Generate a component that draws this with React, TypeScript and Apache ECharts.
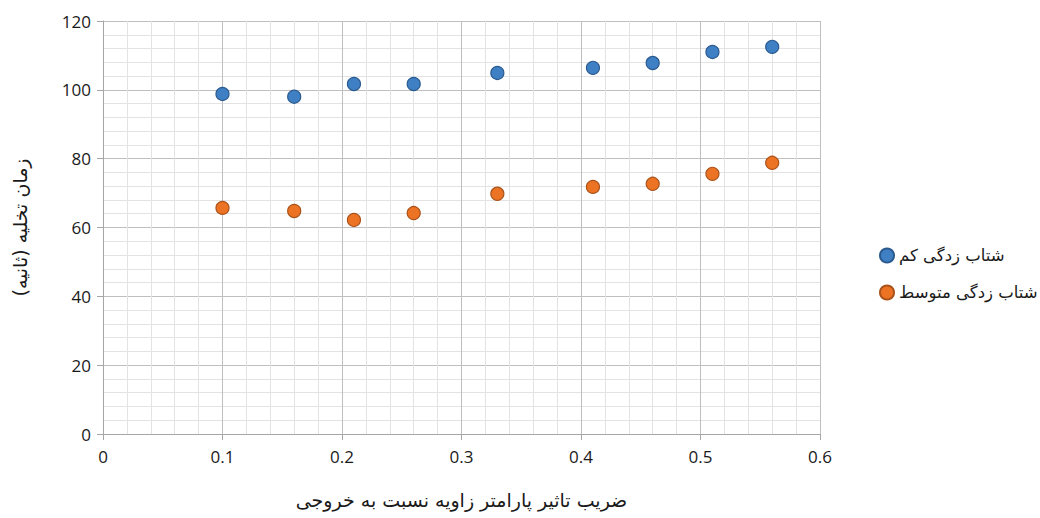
import React, { useEffect, useRef } from "react";
import * as echarts from "echarts";

const xLow = [0.1, 0.16, 0.21, 0.26, 0.33, 0.41, 0.46, 0.51, 0.56];
const yLow = [98.8, 98, 101.7, 101.7, 104.9, 106.4, 107.8, 111, 112.5];
const xMid = [0.1, 0.16, 0.21, 0.26, 0.33, 0.41, 0.46, 0.51, 0.56];
const yMid = [65.7, 64.8, 62.2, 64.2, 69.8, 71.8, 72.7, 75.6, 78.8];
const seriesNames = ["شتاب زدگی کم", "شتاب زدگی متوسط"];
const xTitle = "ضریب تاثیر پارامتر زاویه نسبت به خروجی";
const yTitle = "زمان تخلیه (ثانیه)";

const faFont = "'DejaVu Sans', sans-serif";
const numFont = "'Open Sans', 'Liberation Sans', sans-serif";

export default function App() {
  const ref = useRef<HTMLDivElement>(null);
  useEffect(() => {
    if (!ref.current) return;
    const chart = echarts.init(ref.current, null, { renderer: "svg" });
    const pair = (xs: number[], ys: number[]) => xs.map((x, i) => [x, ys[i]]);
    chart.setOption({
      animation: false,
      backgroundColor: "#ffffff",
      grid: { left: 103, right: 220, top: 21, bottom: 84, containLabel: false },
      legend: {
        orient: "vertical",
        left: 874,
        top: 242,
        itemGap: 20,
        itemWidth: 14,
        itemHeight: 14,
        icon: "circle",
        textStyle: { fontFamily: faFont, fontSize: 16.5, color: "#1a1a1a" },
        data: seriesNames,
      },
      xAxis: {
        type: "value",
        min: 0,
        max: 0.6,
        interval: 0.1,
        name: xTitle,
        nameLocation: "middle",
        nameGap: 56,
        nameTextStyle: { fontFamily: faFont, fontSize: 19, color: "#1a1a1a" },
        axisLine: { show: true, lineStyle: { color: "#a6a6a6", width: 1 } },
        axisTick: { show: true, length: 6, lineStyle: { color: "#a6a6a6" } },
        axisLabel: {
          fontFamily: numFont,
          fontSize: 17,
          color: "#1a1a1a",
          margin: 14,
          formatter: (v: number) => (v === 0 ? "0" : String(Math.round(v * 10) / 10)),
        },
        splitLine: { show: true, lineStyle: { color: "#bfbfbf", width: 1 } },
        minorTick: { show: false, splitNumber: 5 },
        minorSplitLine: { show: true, lineStyle: { color: "#e3e3e3", width: 1 } },
      },
      yAxis: {
        type: "value",
        min: 0,
        max: 120,
        interval: 20,
        name: yTitle,
        nameLocation: "middle",
        nameGap: 74,
        nameRotate: 90,
        nameTextStyle: { fontFamily: faFont, fontSize: 19, color: "#1a1a1a" },
        axisLine: { show: true, lineStyle: { color: "#a6a6a6", width: 1 } },
        axisTick: { show: true, length: 6, lineStyle: { color: "#a6a6a6" } },
        axisLabel: { fontFamily: numFont, fontSize: 17, color: "#1a1a1a", margin: 12 },
        splitLine: { show: true, lineStyle: { color: "#bfbfbf", width: 1 } },
        minorTick: { show: false, splitNumber: 5 },
        minorSplitLine: { show: true, lineStyle: { color: "#e3e3e3", width: 1 } },
      },
      series: [
        {
          name: seriesNames[0],
          type: "scatter",
          symbol: "circle",
          symbolSize: 13,
          itemStyle: { color: "#3f7fc4", borderColor: "#2b5a8f", borderWidth: 1.2, opacity: 1 },
          data: pair(xLow, yLow),
        },
        {
          name: seriesNames[1],
          type: "scatter",
          symbol: "circle",
          symbolSize: 13,
          itemStyle: { color: "#ed7324", borderColor: "#a9521a", borderWidth: 1.2, opacity: 1 },
          data: pair(xMid, yMid),
        },
      ],
    });
    return () => chart.dispose();
  }, []);
  return <div ref={ref} style={{ width: 1040, height: 518, position: "absolute", left: 0, top: 0 }} />;
}
